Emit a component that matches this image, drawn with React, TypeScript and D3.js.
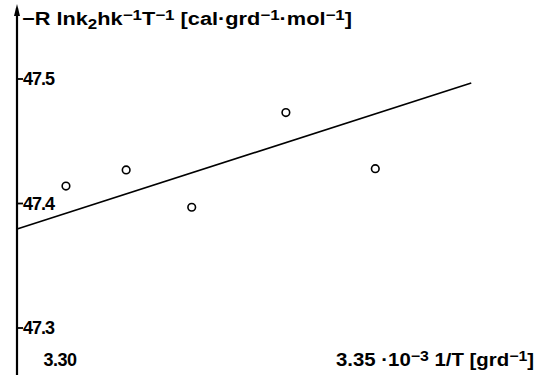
import { useEffect, useRef } from "react";
import * as d3 from "d3";

// measured points (1/T in 10^-3 grd^-1, -R ln k2hk^-1T^-1)
const invT = [3.301, 3.3111, 3.3221, 3.3379, 3.3529];
const energy = [47.414, 47.427, 47.397, 47.473, 47.428];

// fitted straight line, end points
const lineX = [3.2928, 3.369];
const lineY = [47.3795, 47.4968];

const yTicks = [47.3, 47.4, 47.5];
const yTickLabels = ["47.3", "47.4", "47.5"];
const xTicks = [3.3, 3.35];
const xTickLabels = ["3.30", "3.35"];

const W = 556;
const H = 375;
const FONT = "'Liberation Sans', Arial, sans-serif";

const App = () => {
  const ref = useRef<SVGSVGElement>(null);

  useEffect(() => {
    const svg = d3.select(ref.current);
    svg.selectAll("*").remove();

    const x = d3.scaleLinear().domain([3.3, 3.35]).range([60, 358]);
    const y = d3.scaleLinear().domain([47.3, 47.5]).range([328, 79]);
    const axisX = 17;

    // y axis with arrow
    svg
      .append("line")
      .attr("x1", axisX)
      .attr("x2", axisX)
      .attr("y1", 8)
      .attr("y2", H)
      .attr("stroke", "#000")
      .attr("stroke-width", 2.2);
    svg
      .append("path")
      .attr("d", `M${axisX - 3},16 L${axisX},4 L${axisX + 3},16 Z`)
      .attr("fill", "#000");

    // y ticks + labels
    const yt = svg.append("g");
    yt.selectAll("line")
      .data(yTicks)
      .join("line")
      .attr("x1", axisX)
      .attr("x2", axisX + 6)
      .attr("y1", (d) => y(d))
      .attr("y2", (d) => y(d))
      .attr("stroke", "#000")
      .attr("stroke-width", 1.8);
    yt.selectAll("text")
      .data(yTicks)
      .join("text")
      .attr("x", axisX + 6)
      .attr("y", (d) => y(d))
      .attr("dy", "0.36em")
      .attr("font-family", FONT)
      .attr("font-size", 18)
      .attr("font-weight", "bold")
      .attr("letter-spacing", -1)
      .text((d, i) => yTickLabels[i]);

    // title
    const title = svg
      .append("text")
      .attr("x", 22)
      .attr("y", 25)
      .attr("font-family", FONT)
      .attr("font-size", 18)
      .attr("font-weight", "bold")
      .attr("textLength", 330)
      .attr("lengthAdjust", "spacingAndGlyphs");
    const parts: [string, string][] = [
      ["−R lnk", "n"],
      ["2", "sub"],
      ["hk", "n"],
      ["−1", "sup"],
      ["T", "n"],
      ["−1", "sup"],
      [" [cal·grd", "n"],
      ["−1", "sup"],
      ["·mol", "n"],
      ["−1", "sup"],
      ["]", "n"],
    ];
    parts.forEach(([t, k]) => {
      title
        .append("tspan")
        .attr("baseline-shift", k === "sub" ? "-25%" : k === "sup" ? "35%" : "0")
        .attr("font-size", k === "n" ? 18 : 14)
        .text(t);
    });

    // x tick labels
    svg
      .append("text")
      .attr("x", x(xTicks[0]))
      .attr("y", 366)
      .attr("text-anchor", "middle")
      .attr("font-family", FONT)
      .attr("font-size", 18)
      .attr("font-weight", "bold")
      .attr("letter-spacing", -0.5)
      .text(xTickLabels[0]);

    const xl = svg
      .append("text")
      .attr("x", x(xTicks[1]) - 22)
      .attr("y", 366)
      .attr("font-family", FONT)
      .attr("font-size", 18)
      .attr("font-weight", "bold")
      .attr("textLength", 198)
      .attr("lengthAdjust", "spacingAndGlyphs");
    const xparts: [string, string][] = [
      [xTickLabels[1] + " ·10", "n"],
      ["−3", "sup"],
      [" 1/T [grd", "n"],
      ["−1", "sup"],
      ["]", "n"],
    ];
    xparts.forEach(([t, k]) => {
      xl.append("tspan")
        .attr("baseline-shift", k === "sup" ? "35%" : "0")
        .attr("font-size", k === "n" ? 18 : 14)
        .text(t);
    });

    // fitted line
    const line = d3
      .line<number>()
      .x((d) => x(d))
      .y((d, i) => y(lineY[i]));
    svg
      .append("path")
      .attr("d", line(lineX))
      .attr("fill", "none")
      .attr("stroke", "#000")
      .attr("stroke-width", 1.6);

    // points
    svg
      .append("g")
      .selectAll("circle")
      .data(invT)
      .join("circle")
      .attr("cx", (d) => x(d))
      .attr("cy", (d, i) => y(energy[i]))
      .attr("r", 3.8)
      .attr("fill", "#fff")
      .attr("stroke", "#000")
      .attr("stroke-width", 1.6);
  }, []);

  return (
    <svg
      ref={ref}
      width={W}
      height={H}
      style={{ position: "absolute", left: 0, top: 0, background: "#fff" }}
    ></svg>
  );
};

export default App;
